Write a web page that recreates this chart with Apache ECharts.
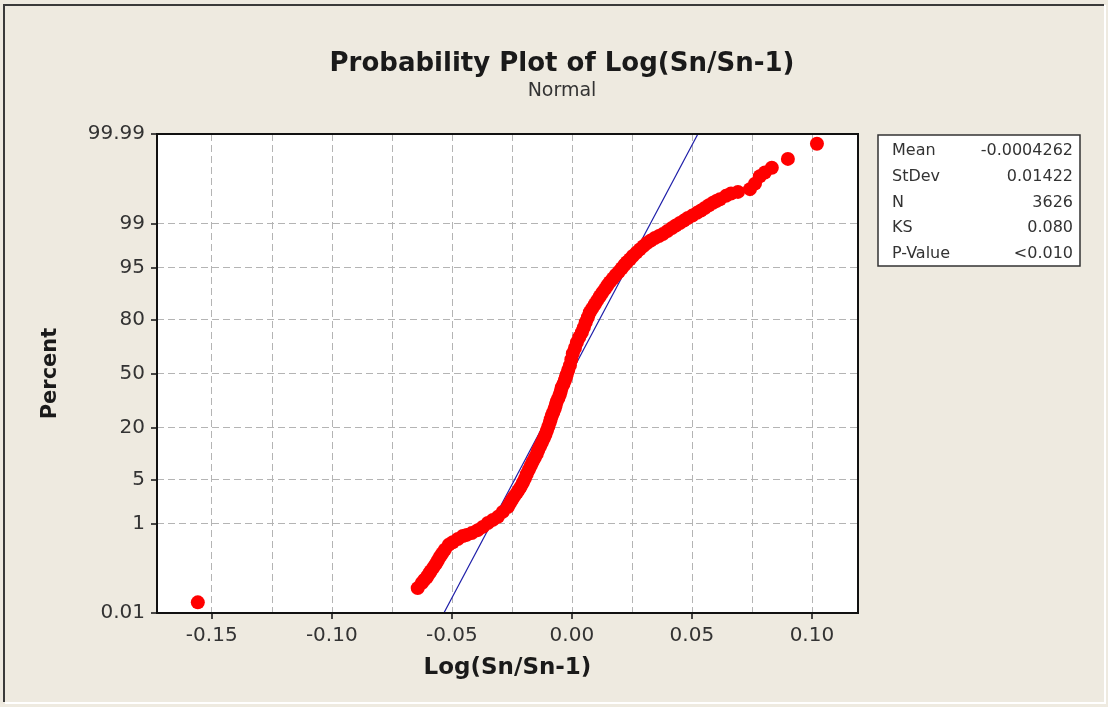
<!DOCTYPE html>
<html>
<head>
<meta charset="utf-8">
<script src="https://cdn.jsdelivr.net/npm/echarts@6/dist/echarts.min.js"></script>
<style>
  html, body { margin: 0; padding: 0; background: #eeeae0; }
  #chart { width: 1108px; height: 707px; }
</style>
</head>
<body>
<div id="chart"></div>
<script>
// points: data value and plotting percent
var xValues = [-0.1558, -0.0642, -0.0625, -0.0615, -0.0604, -0.0596, -0.0588, -0.0577, -0.0567, -0.0558,
  -0.055, -0.054, -0.0529, -0.0513, -0.0496, -0.0475, -0.0454, -0.0438, -0.0417, -0.0392,
  -0.0371, -0.035, -0.0329, -0.0308, -0.0288, -0.0267, -0.0258, -0.025, -0.024, -0.0229,
  -0.0221, -0.0213, -0.0204, -0.0196, -0.0188, -0.0179, -0.0171, -0.0163, -0.0154, -0.0146,
  -0.014, -0.0133, -0.0125, -0.0117, -0.011, -0.0104, -0.0098, -0.0092, -0.0088, -0.0083,
  -0.0077, -0.0071, -0.0067, -0.0063, -0.0056, -0.005, -0.0046, -0.0042, -0.0035, -0.0029,
  -0.0025, -0.0021, -0.0015, -0.0008, -0.0002, 0.0004, 0.0013, 0.0021, 0.0031, 0.0042,
  0.005, 0.0058, 0.0067, 0.0075, 0.0085, 0.0096, 0.0106, 0.0117, 0.0127, 0.0138,
  0.0148, 0.0158, 0.0171, 0.0183, 0.0196, 0.0208, 0.0219, 0.0229, 0.0242, 0.0254,
  0.0269, 0.0283, 0.0298, 0.0313, 0.0329, 0.0346, 0.0363, 0.0379, 0.0398, 0.0417,
  0.0433, 0.045, 0.0467, 0.0483, 0.0502, 0.0521, 0.0538, 0.0554, 0.0571, 0.0588,
  0.0602, 0.0617, 0.0642, 0.0663, 0.0692, 0.0742, 0.0763, 0.0783, 0.0804, 0.0833,
  0.09, 0.1021]
var pctValues = [0.019, 0.043, 0.057, 0.067, 0.078, 0.092, 0.107, 0.129, 0.154, 0.184,
  0.22, 0.26, 0.31, 0.39, 0.44, 0.51, 0.58, 0.61, 0.66, 0.75,
  0.86, 1.01, 1.15, 1.30, 1.58, 1.91, 2.19, 2.48, 2.82, 3.19,
  3.54, 3.92, 4.48, 5.09, 5.88, 6.74, 7.59, 8.52, 9.54, 10.6,
  11.7, 12.8, 14.1, 15.6, 17.1, 18.7, 20.4, 22.3, 23.9, 25.7,
  27.4, 29.3, 31.2, 33.1, 35.1, 37.2, 39.3, 41.4, 43.5, 45.7,
  47.5, 49.4, 52.2, 55.0, 58.6, 62.2, 65.4, 68.5, 71.3, 73.9,
  76.3, 78.7, 80.9, 82.9, 84.4, 85.9, 87.2, 88.5, 89.5, 90.5,
  91.4, 92.2, 93.0, 93.7, 94.3, 94.9, 95.4, 95.8, 96.2, 96.6,
  96.97, 97.3, 97.60, 97.86, 98.05, 98.23, 98.36, 98.48, 98.65, 98.81,
  98.92, 99.03, 99.12, 99.21, 99.29, 99.37, 99.43, 99.49, 99.55, 99.60,
  99.63, 99.66, 99.71, 99.74, 99.76, 99.79, 99.84, 99.89, 99.91, 99.93,
  99.957, 99.982]

// fitted normal line end points
var fitX = [-0.0533, 0.0525]
var fitPct = [0.01, 99.99]

var xTicks = [-0.15, -0.10, -0.05, 0.00, 0.05, 0.10]
var xGrid = [-0.15, -0.125, -0.10, -0.075, -0.05, -0.025, 0, 0.025, 0.05, 0.075, 0.10]
var yTickPct = [0.01, 1, 5, 20, 50, 80, 95, 99, 99.99]
var yTickLabels = ['0.01', '1', '5', '20', '50', '80', '95', '99', '99.99']

var statNames = ['Mean', 'StDev', 'N', 'KS', 'P-Value']
var statValues = ['-0.0004262', '0.01422', '3626', '0.080', '<0.010']

// inverse normal cdf, used as the probability scale
function probit(p) {
  var a = [-39.69683028665376, 220.9460984245205, -275.9285104469687, 138.3577518672690, -30.66479806614716, 2.506628277459239]
  var b = [-54.47609879822406, 161.5858368580409, -155.6989798598866, 66.80131188771972, -13.28068155288572]
  var c = [-0.007784894002430293, -0.3223964580411365, -2.400758277161838, -2.549732539343734, 4.374664141464968, 2.938163982698783]
  var d = [0.007784695709041462, 0.3224671290700398, 2.445134137142996, 3.754408661907416]
  var plow = 0.02425, q, r
  if (p < plow) {
    q = Math.sqrt(-2 * Math.log(p))
    return (((((c[0] * q + c[1]) * q + c[2]) * q + c[3]) * q + c[4]) * q + c[5]) / ((((d[0] * q + d[1]) * q + d[2]) * q + d[3]) * q + 1)
  }
  if (p > 1 - plow) {
    q = Math.sqrt(-2 * Math.log(1 - p))
    return -(((((c[0] * q + c[1]) * q + c[2]) * q + c[3]) * q + c[4]) * q + c[5]) / ((((d[0] * q + d[1]) * q + d[2]) * q + d[3]) * q + 1)
  }
  q = p - 0.5
  r = q * q
  return (((((a[0] * r + a[1]) * r + a[2]) * r + a[3]) * r + a[4]) * r + a[5]) * q / (((((b[0] * r + b[1]) * r + b[2]) * r + b[3]) * r + b[4]) * r + 1)
}
function pz(pct) { return probit(pct / 100) }

var points = []
for (var i = 0; i < xValues.length; i++) points.push([xValues[i], pz(pctValues[i])])
var fitLine = [[fitX[0], pz(fitPct[0])], [fitX[1], pz(fitPct[1])]]
var yTickZ = yTickPct.map(pz)

var gridL = 157, gridR = 858, gridT = 134, gridB = 613

// stats box
var boxX = 878, boxY = 135, boxW = 202, boxH = 131
var graphics = [
  { type: 'polyline', shape: { points: [[4, 702], [4, 5], [1104, 5]] }, style: { stroke: '#3a3a3a', lineWidth: 2, fill: null } },
  { type: 'polyline', shape: { points: [[5, 703], [1105, 703], [1105, 5]] }, style: { stroke: '#ffffff', lineWidth: 2, fill: null } },
  // plot frame over the grid lines
  { type: 'rect', z: 100, shape: { x: gridL, y: gridT, width: gridR - gridL, height: gridB - gridT }, style: { fill: null, stroke: '#111', lineWidth: 2 } },
  { type: 'rect', shape: { x: boxX, y: boxY, width: boxW, height: boxH }, style: { fill: '#ffffff', stroke: '#333333', lineWidth: 1.5 } }
]
for (var k = 0; k < statNames.length; k++) {
  var rowY = boxY + 16 + k * 25.7
  graphics.push({ type: 'text', x: boxX + 14, y: rowY, style: { text: statNames[k], fill: '#333', font: '16px "DejaVu Sans"', textVerticalAlign: 'middle' } })
  graphics.push({ type: 'text', x: boxX + boxW - 7, y: rowY, style: { text: statValues[k], fill: '#333', font: '16px "DejaVu Sans"', textAlign: 'right', textVerticalAlign: 'middle' } })
}

var myChart = echarts.init(document.getElementById('chart'))
var option = {
  backgroundColor: '#eeeae0',
  animation: false,
  title: {
    text: 'Probability Plot of Log(Sn/Sn-1)',
    subtext: 'Normal',
    left: 557,
    textAlign: 'center',
    top: 46,
    itemGap: 5,
    textStyle: { fontFamily: 'DejaVu Sans', fontWeight: 'bold', fontSize: 26, color: '#1a1a1a' },
    subtextStyle: { fontFamily: 'DejaVu Sans', fontSize: 19, color: '#333' }
  },
  grid: {
    left: gridL, right: 1108 - gridR, top: gridT, bottom: 707 - gridB,
    show: true, backgroundColor: '#ffffff', borderWidth: 0
  },
  xAxis: [
    {
      type: 'value',
      min: -0.1728,
      max: 0.1192,
      name: 'Log(Sn/Sn-1)',
      nameLocation: 'middle',
      nameGap: 44,
      nameTextStyle: { fontFamily: 'DejaVu Sans', fontWeight: 'bold', fontSize: 23, color: '#1a1a1a' },
      axisLine: { onZero: false, lineStyle: { color: '#111', width: 2 } },
      axisTick: { customValues: xTicks, length: 6, lineStyle: { color: '#111', width: 1.5 } },
      axisLabel: {
        customValues: xTicks, margin: 13, fontFamily: 'DejaVu Sans', fontSize: 20, color: '#333',
        formatter: function (v) { return v.toFixed(2) }
      },
      splitLine: { show: false }
    },
    {
      // only carries the dashed vertical grid
      type: 'value',
      position: 'top',
      min: -0.1728,
      max: 0.1192,
      axisLine: { show: false, onZero: false },
      axisTick: { show: false, customValues: xGrid },
      axisLabel: { show: false },
      splitLine: { show: true, lineStyle: { color: '#b4b4b4', type: [7, 4], width: 1 } }
    }
  ],
  yAxis: {
    type: 'value',
    min: pz(0.01),
    max: pz(99.99),
    name: 'Percent',
    nameLocation: 'middle',
    nameGap: 96,
    nameTextStyle: { fontFamily: 'DejaVu Sans', fontWeight: 'bold', fontSize: 21, color: '#1a1a1a' },
    axisLine: { onZero: false, lineStyle: { color: '#111', width: 2 } },
    axisTick: { customValues: yTickZ, length: 6, lineStyle: { color: '#111', width: 1.5 } },
    axisLabel: {
      customValues: yTickZ, margin: 12, fontFamily: 'DejaVu Sans', fontSize: 20, color: '#333',
      formatter: function (v) {
        var best = 0
        for (var j = 1; j < yTickZ.length; j++) {
          if (Math.abs(yTickZ[j] - v) < Math.abs(yTickZ[best] - v)) best = j
        }
        return yTickLabels[best]
      }
    },
    splitLine: { show: true, lineStyle: { color: '#b4b4b4', type: [7, 4], width: 1 } }
  },
  series: [
    {
      type: 'line',
      data: fitLine,
      showSymbol: false,
      symbol: 'none',
      lineStyle: { color: '#1c1ca8', width: 1.2 },
      z: 2
    },
    {
      type: 'scatter',
      data: points,
      symbol: 'circle',
      symbolSize: 14,
      itemStyle: { color: '#ff0000', opacity: 1 },
      z: 3
    }
  ],
  graphic: graphics
}
myChart.setOption(option)
</script>
</body>
</html>
